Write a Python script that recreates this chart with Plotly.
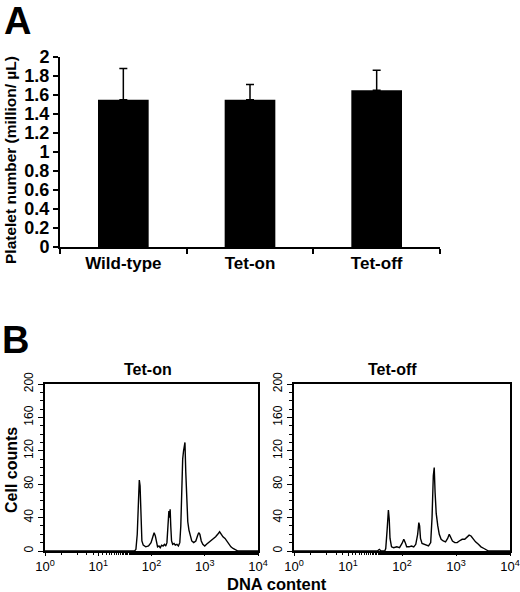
import plotly.graph_objects as go

# ---------- Panel A data ----------
groups = ["Wild-type", "Tet-on", "Tet-off"]
platelet_mean = [1.55, 1.55, 1.65]
platelet_err_plus = [0.33, 0.16, 0.21]

# ---------- Panel B data (DNA content vs cell counts) ----------
teton_dna = [1, 40, 48, 51, 54, 57, 59, 61, 63, 66, 70, 78, 88, 98, 106, 112, 118, 124,
             130, 138, 146, 155, 165, 175, 185, 195, 205, 212, 218, 224, 230, 238, 250,
             265, 280, 300, 320, 340, 355, 370, 385, 400, 415, 425, 440, 460, 480, 505,
             535, 570, 620, 680, 730, 770, 810, 860, 920, 1000, 1080, 1180, 1300, 1450,
             1600, 1750, 1900, 2050, 2200, 2400, 2600, 2850, 3100, 3400, 3800, 4200, 10000]
teton_counts = [0, 0, 0, 2, 20, 60, 85, 78, 40, 12, 7, 5, 6, 10, 17, 22, 18, 10,
                5, 6, 4, 7, 6, 8, 6, 10, 30, 48, 40, 50, 30, 12, 8,
                9, 7, 8, 6, 10, 30, 75, 110, 120, 128, 130, 95, 60, 35, 25,
                18, 12, 10, 12, 18, 22, 20, 12, 8, 6, 8, 10, 12, 15,
                17, 20, 23, 20, 17, 15, 12, 8, 5, 3, 1, 0, 0]

tetoff_dna = [1, 35, 38, 41, 48, 50, 53, 56, 58, 60, 64, 70, 80, 90, 100, 108, 115, 122,
              135, 150, 165, 180, 195, 205, 212, 220, 235, 255, 280, 310, 340, 360, 380,
              395, 410, 430, 460, 490, 530, 580, 640, 700, 750, 800, 860, 950, 1050, 1150,
              1300, 1450, 1600, 1750, 1900, 2050, 2300, 2600, 2900, 3300, 3700, 4000, 10000]
tetoff_counts = [0, 0, 2, 0, 0, 3, 25, 49, 38, 15, 5, 4, 5, 4, 9, 14, 10, 5,
                 5, 6, 5, 8, 20, 34, 30, 15, 9, 8, 7, 6, 10, 40, 90,
                 100, 70, 45, 30, 20, 14, 12, 11, 15, 20, 17, 12, 10, 10, 12,
                 14, 14, 17, 19, 18, 15, 11, 8, 5, 3, 1, 0, 0]

log_ticks = [1, 10, 100, 1000, 10000]
log_ticktext = ["10<sup>0</sup>", "10<sup>1</sup>", "10<sup>2</sup>", "10<sup>3</sup>", "10<sup>4</sup>"]
count_ticks = [0, 40, 80, 120, 160, 200]

FONT = "Liberation Sans, Arial, sans-serif"
W, H = 520, 592

def px(x):
    return x / W

def py(y):
    return 1 - y / H

fig = go.Figure()

fig.add_trace(go.Bar(
    x=groups, y=platelet_mean, width=0.4,
    marker=dict(color="black", line=dict(width=0)),
    error_y=dict(type="data", symmetric=False, array=platelet_err_plus,
                 arrayminus=[0, 0, 0], color="black", thickness=1.5, width=4),
    xaxis="x", yaxis="y", showlegend=False,
))

fig.add_trace(go.Scatter(
    x=teton_dna, y=teton_counts, mode="lines",
    line=dict(color="black", width=1.4),
    xaxis="x2", yaxis="y2", showlegend=False,
))
fig.add_trace(go.Scatter(
    x=tetoff_dna, y=tetoff_counts, mode="lines",
    line=dict(color="black", width=1.4),
    xaxis="x3", yaxis="y3", showlegend=False,
))

xtick_font = dict(family=FONT, size=17, color="black", weight="bold")
ytick_font = dict(family=FONT, size=18, color="black", weight="bold")

layout = dict(
    width=W, height=H,
    margin=dict(l=0, r=0, t=0, b=0, pad=0, autoexpand=False),
    showlegend=False,
    paper_bgcolor="white", plot_bgcolor="white",
    font=dict(family=FONT, color="black"),
    xaxis=dict(domain=[px(60), px(440)], anchor="y", type="category", automargin=False,
               range=[-0.5, 2.5], showline=True, linecolor="black", linewidth=2,
               ticks="outside", tickson="boundaries", ticklen=5, tickwidth=2,
               tickcolor="black", tickfont=xtick_font, showgrid=False, zeroline=False),
    yaxis=dict(domain=[py(247), py(57)], anchor="x", range=[0, 2], automargin=False,
               tick0=0, dtick=0.2, showline=True, linecolor="black", linewidth=2,
               ticks="outside", ticklen=5, tickwidth=2, tickcolor="black",
               tickfont=ytick_font, showgrid=False, zeroline=False),
)

for ax_x, ax_y, x0, x1 in [("xaxis2", "yaxis2", 45, 258), ("xaxis3", "yaxis3", 294, 510)]:
    xa = ax_x.replace("axis", "")
    ya = ax_y.replace("axis", "")
    layout[ax_x] = dict(domain=[px(x0), px(x1)], anchor=ya, type="log", range=[0, 4],
                        automargin=False,
                        showline=True, mirror=True, linecolor="black", linewidth=1.5,
                        ticks="outside", ticklen=3, tickwidth=1.2, tickcolor="black",
                        tickvals=log_ticks, ticktext=log_ticktext,
                        tickfont=dict(family=FONT, size=13, color="black"),
                        minor=dict(ticks="outside", ticklen=2, tickcolor="black", tickwidth=1,
                                   showgrid=False),
                        showgrid=False, zeroline=False)
    layout[ax_y] = dict(domain=[py(551), py(384)], anchor=xa, range=[0, 200],
                        automargin=False,
                        showline=True, mirror=True, linecolor="black", linewidth=1.5,
                        ticks="outside", ticklen=5, tickwidth=1.2, tickcolor="black",
                        tickvals=count_ticks, tickangle=-90,
                        tickfont=dict(family=FONT, size=12, color="black"),
                        minor=dict(ticks="outside", ticklen=3, dtick=10, tickcolor="black",
                                   tickwidth=1, showgrid=False),
                        showgrid=False, zeroline=False)

fig.update_layout(**layout)

annotations = [
    dict(text="A", x=px(17), y=py(21), font=dict(family=FONT, size=38, color="black", weight="bold")),
    dict(text="B", x=px(15), y=py(340), font=dict(family=FONT, size=38, color="black", weight="bold")),
    dict(text="Platelet number (million/ µL)", x=px(10), y=py(160), textangle=-90,
         font=dict(family=FONT, size=15.5, color="black", weight="bold")),
    dict(text="Tet-on", x=px(148), y=py(369), font=dict(family=FONT, size=16, color="black", weight="bold")),
    dict(text="Tet-off", x=px(392), y=py(369), font=dict(family=FONT, size=16, color="black", weight="bold")),
    dict(text="Cell counts", x=px(11), y=py(470), textangle=-90,
         font=dict(family=FONT, size=16, color="black", weight="bold")),
    dict(text="DNA content", x=px(277), y=py(584),
         font=dict(family=FONT, size=16.5, color="black", weight="bold")),
]
for a in annotations:
    a.update(xref="paper", yref="paper", showarrow=False, xanchor="center", yanchor="middle")
fig.update_layout(annotations=annotations)

fig.write_html(
    "out.html",
    config={"displayModeBar": False},
    post_script="document.body.style.margin='0';document.body.style.overflow='hidden';",
)
